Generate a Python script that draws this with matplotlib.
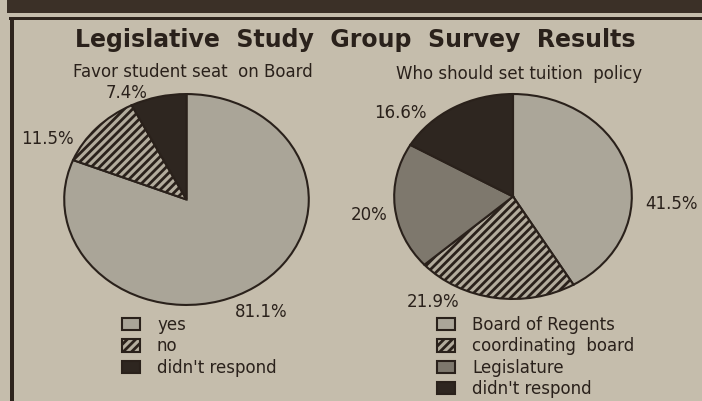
import matplotlib.pyplot as plt
from matplotlib.patches import Rectangle

seat_labels = ['yes', 'no', "didn't respond"]
seat_values = [81.1, 11.5, 7.4]

tuition_labels = ['Board of Regents', 'coordinating  board', 'Legislature', "didn't respond"]
tuition_values = [41.5, 21.9, 20, 16.6]

bg = '#c5bdac'
ink = '#2a211b'
plt.rcParams['hatch.linewidth'] = 2.0
plt.rcParams['font.family'] = ['DejaVu Sans']

W, H = 702, 401
fig = plt.figure(figsize=(7.02, 4.01), dpi=100, facecolor=bg)

def box(x0, y0, x1, y1):
    return [x0 / W, 1 - y1 / H, (x1 - x0) / W, (y1 - y0) / H]

# newspaper frame
fig.add_artist(Rectangle((7 / W, 1 - 13 / H), 1, 13 / H, transform=fig.transFigure, color='#3b3027', lw=0))
fig.add_artist(Rectangle((9 / W, 1 - 20 / H), 1, 3 / H, transform=fig.transFigure, color='#2e241d', lw=0))
fig.add_artist(Rectangle((10 / W, 0), 4 / W, 1 - 17 / H, transform=fig.transFigure, color='#2e241d', lw=0))

fig.text(355 / W, 1 - 40 / H, 'Legislative  Study  Group  Survey  Results', ha='center', va='center',
         fontsize=17, fontweight='bold', color=ink)

wp = dict(edgecolor=ink, linewidth=1.5)

# left pie
ax1 = fig.add_axes(box(63, 93, 310, 306))
w1, _ = ax1.pie(seat_values, startangle=90, counterclock=False,
                colors=['#aaa598', '#b3ac9d', '#2e2620'], hatch=['', '////', ''],
                wedgeprops=wp)
ax1.set_aspect('auto')
ax1.set_xlim(-1.01, 1.01)
ax1.set_ylim(-1.01, 1.01)

# right pie
ax2 = fig.add_axes(box(393, 93, 633, 300))
w2, _ = ax2.pie(tuition_values, startangle=90, counterclock=False,
                colors=['#aba699', '#b3ac9d', '#7e786d', '#2e2620'], hatch=['', '////', '', ''],
                wedgeprops=wp)
ax2.set_aspect('auto')
ax2.set_xlim(-1.01, 1.01)
ax2.set_ylim(-1.01, 1.01)

fig.text(193 / W, 1 - 72 / H, 'Favor student seat  on Board', ha='center', va='center', fontsize=12, color=ink)
fig.text(519 / W, 1 - 74 / H, 'Who should set tuition  policy', ha='center', va='center', fontsize=12, color=ink)

def pct(v):
    return f'{v:g}%'

seat_pos = [(261, 312), (47, 139), (127, 93)]
for v, (x, y) in zip(seat_values, seat_pos):
    fig.text(x / W, 1 - y / H, pct(v), ha='center', va='center', fontsize=12, color=ink)

tuition_pos = [(672, 204), (433, 302), (369, 215), (400, 113)]
for v, (x, y) in zip(tuition_values, tuition_pos):
    fig.text(x / W, 1 - y / H, pct(v), ha='center', va='center', fontsize=12, color=ink)

leg_kw = dict(loc='upper left', frameon=False, borderpad=0, fontsize=12, labelcolor=ink,
              handlelength=1.05, handleheight=0.75, handletextpad=1.05, labelspacing=0.2,
              borderaxespad=0)
fig.legend(w1, seat_labels, bbox_to_anchor=(122 / W, 1 - 316 / H), **leg_kw)
fig.legend(w2, tuition_labels, bbox_to_anchor=(437 / W, 1 - 316 / H), **leg_kw)

fig.savefig('out.png', dpi=100, facecolor=bg)
